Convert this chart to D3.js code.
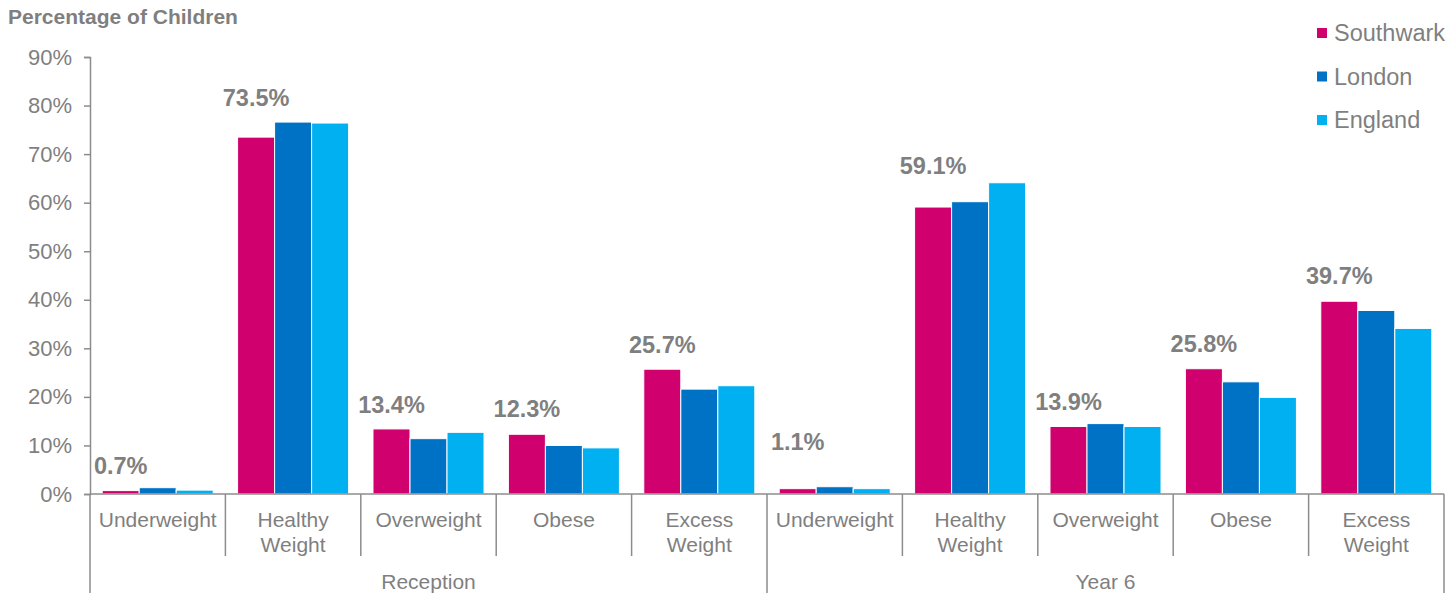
<!DOCTYPE html>
<html>
<head>
<meta charset="utf-8">
<script src="https://cdn.jsdelivr.net/npm/d3@7"></script>
<style>
  body { margin: 0; background: #fff; }
  text { font-family: "Liberation Sans", Arial, sans-serif; fill: #7f7f7f; }
</style>
</head>
<body>
<div class="canvas"></div>
<script>
// data
const groups = ['Reception', 'Year 6']
const categories = ['Underweight', 'Healthy Weight', 'Overweight', 'Obese', 'Excess Weight']
const series = ['Southwark', 'London', 'England']
const colors = ['#d0006f', '#0072c6', '#00b0f0']

const southwark = [0.7, 73.5, 13.4, 12.3, 25.7, 1.1, 59.1, 13.9, 25.8, 39.7]
const london = [1.3, 76.6, 11.4, 10.0, 21.6, 1.5, 60.2, 14.5, 23.1, 37.8]
const england = [0.8, 76.4, 12.7, 9.5, 22.3, 1.1, 64.1, 13.9, 19.9, 34.1]
const yTicks = [0, 10, 20, 30, 40, 50, 60, 70, 80, 90]

const svgWidth = 1451, svgHeight = 593
const margin = { top: 57, right: 7, bottom: 99, left: 90 }
const graphWidth = svgWidth - margin.left - margin.right
const graphHeight = svgHeight - margin.top - margin.bottom

const svg = d3.select('.canvas')
  .append('svg')
  .attr('width', svgWidth)
  .attr('height', svgHeight)

const graph = svg.append('g')
  .attr('transform', `translate(${margin.left}, ${margin.top})`)

// build rows: one per group/category slot
const rows = []
groups.forEach((g, gi) => {
  categories.forEach((c, ci) => {
    const i = gi * categories.length + ci
    rows.push({ key: g + '|' + c, group: g, cat: c, values: [southwark[i], london[i], england[i]] })
  })
})

// scales
const x0 = d3.scaleBand().domain(rows.map(d => d.key)).range([0, graphWidth])
const bw = x0.bandwidth()
const x1 = d3.scaleBand().domain(series).range([bw * 0.09, bw * 0.91])
const y = d3.scaleLinear().domain([0, 90]).range([graphHeight, 0])

const axisColor = '#8c8c8c'

// y axis
const yAxis = d3.axisLeft(y)
  .tickValues(yTicks)
  .tickSize(6)
  .tickFormat(d => d + '%')
const yAxisGroup = graph.append('g').call(yAxis)
yAxisGroup.select('.domain').attr('stroke', axisColor).attr('stroke-width', 1.5)
yAxisGroup.selectAll('.tick line').attr('stroke', axisColor).attr('stroke-width', 1.5)
yAxisGroup.selectAll('.tick text')
  .attr('x', -18)
  .style('font-size', '22px')
  .attr('fill', '#7f7f7f')

// bars
const cats = graph.selectAll('.cat')
  .data(rows)
  .enter()
  .append('g')
  .attr('class', 'cat')
  .attr('transform', d => `translate(${x0(d.key)}, 0)`)

cats.selectAll('rect')
  .data(d => d.values.map((v, i) => ({ s: series[i], v, c: colors[i] })))
  .enter()
  .append('rect')
  .attr('x', d => x1(d.s))
  .attr('width', x1.bandwidth())
  .attr('y', d => y(d.v))
  .attr('height', d => graphHeight - y(d.v))
  .attr('fill', d => d.c)
  .attr('stroke', '#fff')
  .attr('stroke-width', 1)

// Southwark value labels (hand placed above the bars in the original)
const labelRaise = [17, 31, 16, 17, 16, 39, 33, 17, 17, 17]
cats.append('text')
  .attr('x', x1('Southwark') + x1.bandwidth() / 2)
  .attr('y', (d, i) => y(d.values[0]) - labelRaise[i])
  .attr('text-anchor', 'middle')
  .style('font-size', '23.5px')
  .style('font-weight', 'bold')
  .text(d => d.values[0].toFixed(1) + '%')

// x axis line
graph.append('line')
  .attr('x1', 0).attr('x2', graphWidth)
  .attr('y1', graphHeight).attr('y2', graphHeight)
  .attr('stroke', axisColor).attr('stroke-width', 1.5)

// category separators
const sepX = d3.range(rows.length + 1).map(i => i * bw)
graph.selectAll('.sep')
  .data(sepX)
  .enter()
  .append('line')
  .attr('x1', d => d).attr('x2', d => d)
  .attr('y1', graphHeight)
  .attr('y2', (d, i) => (i % categories.length === 0) ? svgHeight - margin.top : graphHeight + 62)
  .attr('stroke', axisColor).attr('stroke-width', 1.5)

// category labels
const catLabels = cats.append('text')
  .attr('text-anchor', 'middle')
  .attr('transform', `translate(${bw / 2}, ${graphHeight + 33})`)
  .style('font-size', '21px')
catLabels.selectAll('tspan')
  .data(d => d.cat.split(' '))
  .enter()
  .append('tspan')
  .attr('x', 0)
  .attr('dy', (d, i) => i === 0 ? 0 : 25)
  .text(d => d)

// group labels
graph.selectAll('.grp')
  .data(groups)
  .enter()
  .append('text')
  .attr('x', (d, i) => (i + 0.5) * bw * categories.length)
  .attr('y', graphHeight + 95)
  .attr('text-anchor', 'middle')
  .style('font-size', '21px')
  .text(d => d)

// axis title
svg.append('text')
  .attr('x', 8)
  .attr('y', 24)
  .style('font-size', '21px')
  .style('font-weight', 'bold')
  .text('Percentage of Children')

// legend
const legend = svg.append('g')
  .attr('transform', 'translate(1317, 33)')
const item = legend.selectAll('g')
  .data(series)
  .enter()
  .append('g')
  .attr('transform', (d, i) => `translate(0, ${i * 43.5})`)
item.append('rect')
  .attr('x', 0).attr('y', -5)
  .attr('width', 10).attr('height', 10)
  .attr('fill', (d, i) => colors[i])
item.append('text')
  .attr('x', 17)
  .attr('y', 8)
  .style('font-size', '23.5px')
  .text(d => d)
</script>
</body>
</html>
